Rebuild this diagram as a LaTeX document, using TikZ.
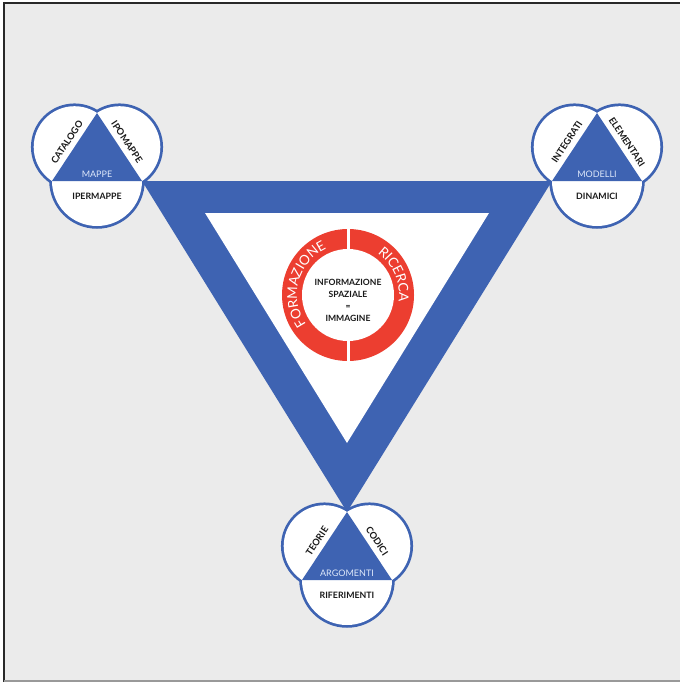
\documentclass[tikz,border=0pt]{standalone}
\usepackage{fontspec}
\setsansfont{Lato}
\usetikzlibrary{calc,decorations.text}

\definecolor{bandblue}{RGB}{62,99,178}
\definecolor{ringred}{RGB}{236,62,48}
\definecolor{paper}{RGB}{235,235,235}
\definecolor{pale}{RGB}{222,232,250}
\definecolor{frame}{RGB}{40,40,40}

\tikzset{
  disc/.style={draw=bandblue, line width=5.5pt},
  word/.style={font=\sffamily\bfseries\fontsize{8.8}{9}\selectfont, text=black!90, inner sep=0pt},
  slant/.style={word, font=\sffamily\bfseries\fontsize{9.3}{9}\selectfont},
  title/.style={font=\sffamily\fontsize{9}{9}\selectfont, text=pale, inner sep=0pt},
  arcword/.style={decorate, decoration={text along path, text align=center,
      text={|\sffamily\fontsize{13.5}{13.5}\selectfont\color{white}|#1}}},
}

\begin{document}
\begin{tikzpicture}[x=1pt,y=1pt]
    % Page, grey panel and its frame
    \useasboundingbox (0,0) rectangle (680,-682);
    \fill[white] (0,0) rectangle (680,-682);
    \fill[paper] (4,-3) rectangle (680,-682);
    \draw[frame, line width=2.5pt] (4,-682) -- (4,-3) -- (680,-3);
    \draw[gray!80, line width=1.5pt] (4,-681) -- (680,-681);

    % Big blue band: outer triangle minus inner white triangle
    \fill[bandblue] (142,-181) -- (552,-181) -- (347,-512) -- cycle;
    \fill[white] (205,-213) -- (489,-213) -- (347,-443) -- cycle;

    % Three corner clusters: apex x / apex y / left / right / name / below
    \foreach \ax/\ay/\wl/\wr/\wn/\wb [count=\i] in {
        97/113/CATALOGO/IPOMAPPE/MAPPE/IPERMAPPE,
        597/113/INTEGRATI/ELEMENTARI/MODELLI/DINAMICI,
        347/512/TEORIE/CODICI/ARGOMENTI/RIFERIMENTI} {
      \coordinate (apex\i) at (\ax,-\ay);
      \coordinate (bl\i) at ($(apex\i)+(-45,-68)$);
      \coordinate (br\i) at ($(apex\i)+(45,-68)$);
      \coordinate (cl\i) at ($(apex\i)+(-22.5,-34)$);
      \coordinate (cr\i) at ($(apex\i)+(22.5,-34)$);
      \coordinate (cb\i) at ($(apex\i)+(0,-68)$);
      % outline of the union first, then white discs hide its inner half
      \foreach \c/\r in {cl/40.8,cr/40.8,cb/45}
        \draw[disc] (\c\i) circle[radius=\r];
      \foreach \c/\r in {cl/40.8,cr/40.8,cb/45}
        \fill[white] (\c\i) circle[radius=\r];
      \fill[bandblue] (apex\i) -- (bl\i) -- (br\i) -- cycle;
      \node[slant, rotate=56.5] (left\i) at ($(apex\i)+(-30,-29)$) {\wl};
      \node[slant, rotate=-56.5] (right\i) at ($(apex\i)+(30,-29)$) {\wr};
      \node[title] (name\i) at ($(apex\i)+(0,-61)$) {\wn};
      \node[word] (base\i) at ($(apex\i)+(0,-83)$) {\wb};
    }

    % Red ring split in two halves
    \coordinate (hub) at (348,-295);
    \fill[ringred] (hub) circle[radius=66];
    \fill[white] (hub) circle[radius=46];
    \draw[white, line width=3pt] ($(hub)+(0,72)$) -- ($(hub)+(0,-72)$);
    \path[arcword=FORMAZIONE] (hub) ++(230:51) arc[start angle=230, end angle=100, radius=51];
    \path[arcword=RICERCA] (hub) ++(77:51) arc[start angle=77, end angle=-30, radius=51];

    % Centre text
    \node[word, align=center, font=\sffamily\bfseries\fontsize{8.6}{12}\selectfont]
        (core) at (348,-300) {INFORMAZIONE\\SPAZIALE\\=\\IMMAGINE};
\end{tikzpicture}
\end{document}
